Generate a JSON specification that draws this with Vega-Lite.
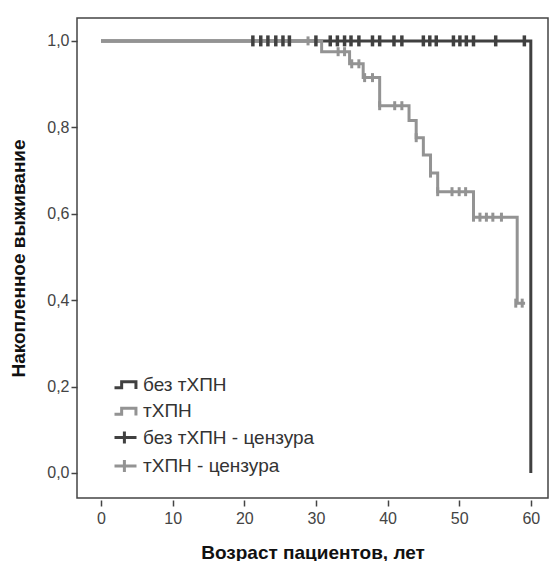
{
  "$schema": "https://vega.github.io/schema/vega-lite/v6.json",
  "width": 471,
  "height": 480,
  "autosize": {"type": "none"},
  "padding": {"left": 77, "top": 18, "right": 5, "bottom": 63},
  "background": "white",
  "config": {
    "view": {"stroke": "#444444", "strokeWidth": 1.5},
    "font": "Liberation Sans",
    "axis": {"labelFont": "Liberation Sans", "titleFont": "Liberation Sans", "labelColor": "#444444", "titleColor": "#111111", "tickColor": "#444444", "grid": false, "domain": false}
  },
  "datasets": {
    "curves": [
      {"series": "без тХПН", "t": 0, "s": 1},
      {"series": "без тХПН", "t": 60, "s": 0},
      {"series": "тХПН", "t": 0, "s": 1},
      {"series": "тХПН", "t": 30.8, "s": 0.975},
      {"series": "тХПН", "t": 34.7, "s": 0.947},
      {"series": "тХПН", "t": 36.6, "s": 0.915},
      {"series": "тХПН", "t": 38.9, "s": 0.85},
      {"series": "тХПН", "t": 43.0, "s": 0.816},
      {"series": "тХПН", "t": 44.0, "s": 0.776},
      {"series": "тХПН", "t": 45.0, "s": 0.736},
      {"series": "тХПН", "t": 46.0, "s": 0.694},
      {"series": "тХПН", "t": 47.0, "s": 0.651},
      {"series": "тХПН", "t": 52.0, "s": 0.592},
      {"series": "тХПН", "t": 58.1, "s": 0.393},
      {"series": "тХПН", "t": 59.2, "s": 0.393}
    ],
    "censors": [
      {"series": "без тХПН - цензура", "t": 21.2, "s": 1},
      {"series": "без тХПН - цензура", "t": 22.3, "s": 1},
      {"series": "без тХПН - цензура", "t": 23.3, "s": 1},
      {"series": "без тХПН - цензура", "t": 24.4, "s": 1},
      {"series": "без тХПН - цензура", "t": 25.4, "s": 1},
      {"series": "без тХПН - цензура", "t": 26.3, "s": 1},
      {"series": "без тХПН - цензура", "t": 30.0, "s": 1},
      {"series": "без тХПН - цензура", "t": 32.0, "s": 1},
      {"series": "без тХПН - цензура", "t": 33.0, "s": 1},
      {"series": "без тХПН - цензура", "t": 34.0, "s": 1},
      {"series": "без тХПН - цензура", "t": 34.9, "s": 1},
      {"series": "без тХПН - цензура", "t": 36.0, "s": 1},
      {"series": "без тХПН - цензура", "t": 37.9, "s": 1},
      {"series": "без тХПН - цензура", "t": 38.9, "s": 1},
      {"series": "без тХПН - цензура", "t": 40.9, "s": 1},
      {"series": "без тХПН - цензура", "t": 42.0, "s": 1},
      {"series": "без тХПН - цензура", "t": 45.0, "s": 1},
      {"series": "без тХПН - цензура", "t": 45.9, "s": 1},
      {"series": "без тХПН - цензура", "t": 46.8, "s": 1},
      {"series": "без тХПН - цензура", "t": 49.2, "s": 1},
      {"series": "без тХПН - цензура", "t": 50.1, "s": 1},
      {"series": "без тХПН - цензура", "t": 51.0, "s": 1},
      {"series": "без тХПН - цензура", "t": 52.0, "s": 1},
      {"series": "без тХПН - цензура", "t": 55.1, "s": 1},
      {"series": "без тХПН - цензура", "t": 59.1, "s": 1},
      {"series": "тХПН - цензура", "t": 28.9, "s": 1},
      {"series": "тХПН - цензура", "t": 33.1, "s": 0.975},
      {"series": "тХПН - цензура", "t": 34.0, "s": 0.975},
      {"series": "тХПН - цензура", "t": 35.0, "s": 0.947},
      {"series": "тХПН - цензура", "t": 36.0, "s": 0.947},
      {"series": "тХПН - цензура", "t": 36.8, "s": 0.915},
      {"series": "тХПН - цензура", "t": 37.9, "s": 0.915},
      {"series": "тХПН - цензура", "t": 38.9, "s": 0.85},
      {"series": "тХПН - цензура", "t": 41.0, "s": 0.85},
      {"series": "тХПН - цензура", "t": 42.0, "s": 0.85},
      {"series": "тХПН - цензура", "t": 44.0, "s": 0.776},
      {"series": "тХПН - цензура", "t": 46.0, "s": 0.694},
      {"series": "тХПН - цензура", "t": 47.0, "s": 0.651},
      {"series": "тХПН - цензура", "t": 49.0, "s": 0.651},
      {"series": "тХПН - цензура", "t": 50.0, "s": 0.651},
      {"series": "тХПН - цензура", "t": 50.9, "s": 0.651},
      {"series": "тХПН - цензура", "t": 52.0, "s": 0.592},
      {"series": "тХПН - цензура", "t": 52.9, "s": 0.592},
      {"series": "тХПН - цензура", "t": 53.8, "s": 0.592},
      {"series": "тХПН - цензура", "t": 54.7, "s": 0.592},
      {"series": "тХПН - цензура", "t": 55.9, "s": 0.592},
      {"series": "тХПН - цензура", "t": 57.9, "s": 0.393},
      {"series": "тХПН - цензура", "t": 58.8, "s": 0.393}
    ]
  },
  "encoding": {
    "x": {
      "field": "t", "type": "quantitative",
      "scale": {"domain": [-3.35, 62.4], "nice": false, "zero": false},
      "axis": {
        "title": "Возраст пациентов, лет", "values": [0, 10, 20, 30, 40, 50, 60],
        "labelFontSize": 16, "tickSize": 6, "tickWidth": 1.5, "offset": 2, "labelPadding": 4,
        "titleFontSize": 19, "titleFontWeight": "bold", "titleY": 58, "titleBaseline": "alphabetic"
      }
    },
    "y": {
      "field": "s", "type": "quantitative",
      "scale": {"domain": [-0.058, 1.053], "nice": false, "zero": false},
      "axis": {
        "title": "Накопленное выживание", "values": [0, 0.2, 0.4, 0.6, 0.8, 1],
        "labelExpr": "replace(format(datum.value, '.1f'), '.', ',')",
        "labelFontSize": 16, "tickSize": 6, "tickWidth": 1.5, "labelPadding": 2,
        "titleFontSize": 19, "titleFontWeight": "bold", "titleX": -59, "titleBaseline": "middle"
      }
    },
    "color": {
      "field": "series", "type": "nominal",
      "scale": {
        "domain": ["без тХПН", "тХПН", "без тХПН - цензура", "тХПН - цензура"],
        "range": ["#404040", "#939393", "#404040", "#939393"]
      },
      "legend": {
        "title": null, "orient": "none", "legendX": 36, "legendY": 354, "padding": 0,
        "labelFont": "Liberation Sans", "labelFontSize": 19, "labelColor": "#333333",
        "labelOffset": 5, "labelLimit": 400, "rowPadding": 3.5, "symbolSize": 484,
        "symbolFillColor": "transparent",
        "encode": {
          "symbols": {
            "update": {
              "shape": {"signal": "indexof(datum.value, 'цензура') >= 0 ? 'M-1,0H1M-0.1,-0.55V0.55' : 'M-1,0.3H-0.35V-0.25H0.95V0.4'"},
              "fill": {"value": "transparent"},
              "fillOpacity": {"value": 0},
              "stroke": {"scale": "color", "field": "value"},
              "strokeOpacity": {"value": 1},
              "strokeWidth": {"value": 3},
              "size": {"value": 484},
              "opacity": {"value": 1}
            }
          }
        }
      }
    }
  },
  "layer": [
    {
      "data": {"name": "curves"},
      "transform": [{"filter": "datum.series === 'без тХПН'"}],
      "mark": {"type": "line", "interpolate": "step-after", "strokeWidth": 3}
    },
    {
      "data": {"name": "curves"},
      "transform": [{"filter": "datum.series === 'тХПН'"}],
      "mark": {"type": "line", "interpolate": "step-after", "strokeWidth": 3}
    },
    {
      "data": {"name": "censors"},
      "transform": [{"filter": "datum.series === 'без тХПН - цензура'"}],
      "mark": {"type": "tick", "orient": "vertical", "size": 11, "thickness": 3.5, "opacity": 1}
    },
    {
      "data": {"name": "censors"},
      "transform": [{"filter": "datum.series === 'тХПН - цензура'"}],
      "mark": {"type": "tick", "orient": "vertical", "size": 9, "thickness": 3, "opacity": 1}
    }
  ]
}
